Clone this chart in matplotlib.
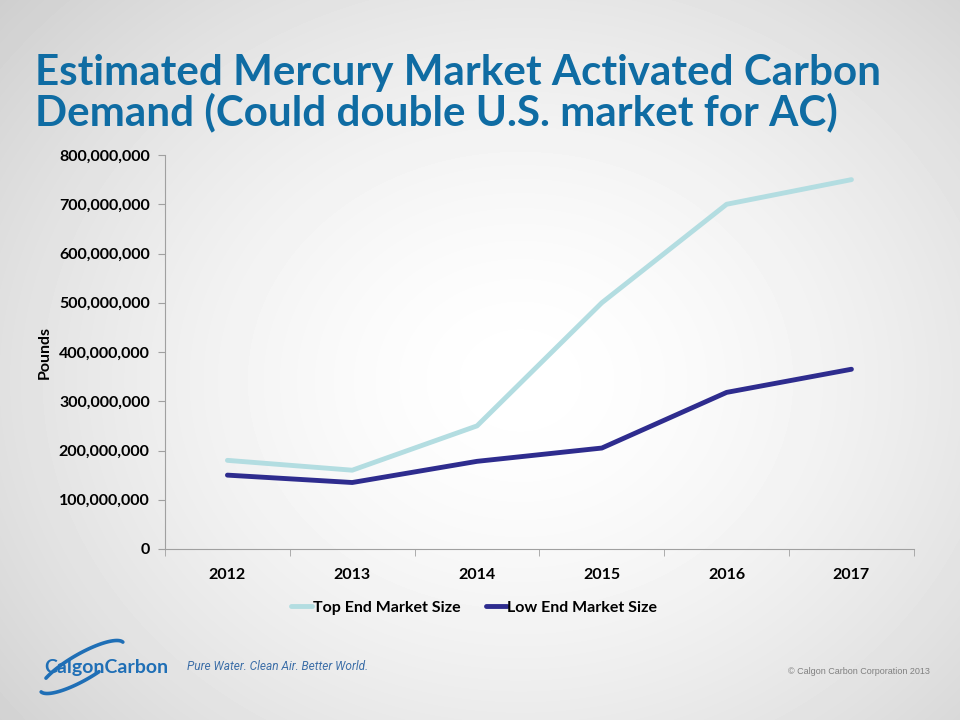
import numpy as np
import matplotlib.pyplot as plt
from matplotlib.ticker import FuncFormatter

years = ["2012", "2013", "2014", "2015", "2016", "2017"]
top_end = [180e6, 160e6, 250e6, 500e6, 700e6, 750e6]
low_end = [150e6, 135e6, 178e6, 205e6, 318e6, 365e6]

title = "Estimated Mercury Market Activated Carbon\nDemand (Could double U.S. market for AC)"
TITLE_BLUE = "#0F6CA3"
TOP_COLOR = "#B3DDE1"
LOW_COLOR = "#2E2C8E"
LOGO_BLUE = "#1F6FB6"

fig = plt.figure(figsize=(9.6, 7.2), dpi=100)

# radial gray background
bg = fig.add_axes([0, 0, 1, 1], zorder=-10)
yy, xx = np.mgrid[0:720, 0:960]
r = np.sqrt(((xx - 520) / 620.0) ** 2 + ((yy - 380) / 520.0) ** 2)
shade = 1.0 - 0.16 * np.clip(r, 0, 1.3) ** 1.6
bg.imshow(shade, cmap="gray", vmin=0, vmax=1, extent=[0, 960, 720, 0], aspect="auto")
bg.set_xlim(0, 960)
bg.set_ylim(720, 0)
bg.axis("off")

fig.text(0.036, 0.871, title, fontsize=30.3, fontweight="bold", color=TITLE_BLUE,
         family="Lato", va="center", ha="left", linespacing=1.02)

ax = fig.add_axes([0.1719, 0.2375, 0.780, 0.5472])
ax.patch.set_alpha(0)
x = np.arange(len(years))
ax.plot(x, top_end, color=TOP_COLOR, lw=3.5, label="Top End Market Size", solid_capstyle="round")
ax.plot(x, low_end, color=LOW_COLOR, lw=3.5, label="Low End Market Size", solid_capstyle="round")

ax.set_xlim(-0.5, len(years) - 0.5)
ax.set_ylim(0, 800e6)
ax.set_yticks(np.arange(0, 800e6 + 1, 100e6))
ax.yaxis.set_major_formatter(FuncFormatter(lambda v, p: f"{int(v):,}"))
ax.set_xticks(x)
ax.set_xticklabels(years)
ax.set_xticks(np.arange(-0.5, len(years), 1.0), minor=True)
ax.tick_params(axis="x", which="major", length=0, pad=14)
ax.tick_params(axis="x", which="minor", length=5, color="#A0A0A0")
ax.tick_params(axis="y", length=5, color="#A0A0A0", pad=6)
for lab in ax.get_xticklabels() + ax.get_yticklabels():
    lab.set_fontfamily("Lato")
    lab.set_fontweight("bold")
    lab.set_fontsize(11.5)
for s in ["top", "right"]:
    ax.spines[s].set_visible(False)
for s in ["left", "bottom"]:
    ax.spines[s].set_color("#A0A0A0")
ax.set_ylabel("Pounds", fontsize=11.5, fontweight="bold", family="Lato", labelpad=5)

leg = ax.legend(loc="upper center", bbox_to_anchor=(0.413, -0.095), ncol=2, frameon=False,
                handlelength=1.3, handletextpad=0.05, columnspacing=1.6,
                prop={"family": "Lato", "weight": "bold", "size": 11.5})

# logo
logo = fig.add_axes([0, 0, 1, 1], zorder=5)
logo.set_xlim(0, 960)
logo.set_ylim(720, 0)
logo.axis("off")
phi = np.deg2rad(30)
cx, cy, a, b = 82, 667, 48, 13


def swoosh(t0, t1):
    t = np.deg2rad(np.linspace(t0, t1, 60))
    px = cx + a * np.cos(t) * np.cos(phi) - b * np.sin(t) * np.sin(phi)
    py = cy - (a * np.cos(t) * np.sin(phi) + b * np.sin(t) * np.cos(phi))
    logo.plot(px, py, color=LOGO_BLUE, lw=2.6, solid_capstyle="round")


swoosh(5, 140)
swoosh(185, 285)
logo.text(44, 667, "CalgonCarbon", fontsize=14, fontweight="bold", color=LOGO_BLUE,
          family="Lato", va="center", ha="left")
logo.text(187, 667, "Pure Water. Clean Air. Better World.", fontsize=8.6, color="#3D6FA8",
          style="italic", family="Roboto", va="center", ha="left")
logo.text(930, 672, "\u00a9 Calgon Carbon Corporation 2013", fontsize=6.5, color="#808080",
          family="Liberation Sans", va="center", ha="right")

fig.savefig("out.png", dpi=100)
